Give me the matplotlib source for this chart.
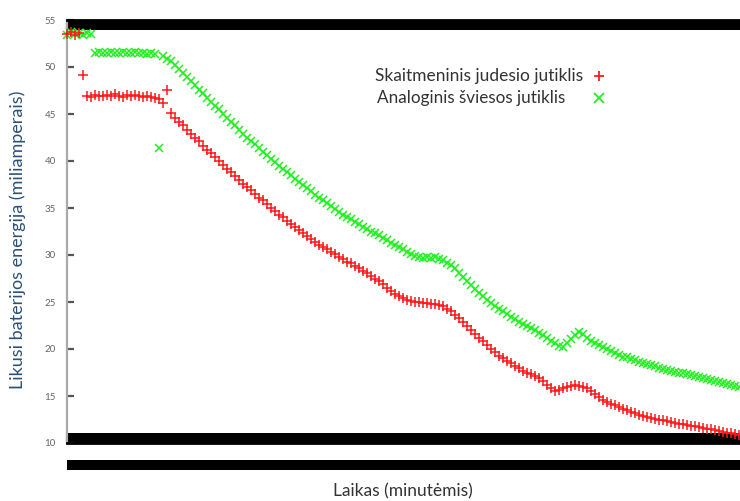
import numpy as np
import matplotlib
matplotlib.use("Agg")
import matplotlib.pyplot as plt
from matplotlib.patches import Rectangle

# Remaining battery energy (mA) per minute for two sensor types
minutes = list(range(169))

digital_motion = [
    53.5, 53.7, 53.4, 53.6, 49.1,
    46.9, 46.8, 47.0, 46.9, 46.9, 47.0, 46.9, 47.1, 46.9, 46.8, 47.0, 46.9, 47.0, 46.9, 46.8, 46.9, 46.8, 46.7,
    46.6, 46.2, 47.6, 45.1, 44.6, 44.2, 43.8, 43.3, 42.9, 42.5, 42.1, 41.6, 41.2, 40.8, 40.4, 40.0, 39.6,
    39.2, 38.8, 38.4, 38.0, 37.6, 37.2, 36.9, 36.5, 36.1, 35.8, 35.4, 35.0, 34.7, 34.3, 34.0, 33.6,
    33.3, 33.0, 32.7, 32.3, 32.0, 31.7, 31.4, 31.1, 30.9, 30.6, 30.3, 30.1, 29.8, 29.6, 29.3, 29.1,
    28.8, 28.6, 28.3, 28.1, 27.8, 27.5, 27.2, 26.9, 26.5, 26.2, 25.9, 25.6, 25.4, 25.2, 25.1, 25.0,
    25.0, 24.9, 24.9, 24.8, 24.8, 24.7, 24.6, 24.3, 24.0, 23.6, 23.3, 22.9, 22.5, 22.0, 21.6, 21.2,
    20.8, 20.4, 20.0, 19.7, 19.3, 19.0, 18.7, 18.5, 18.2, 18.0, 17.7, 17.5, 17.3, 17.1, 16.9, 16.6,
    16.2, 15.8, 15.5, 15.6, 15.8, 16.0, 16.1, 16.2, 16.1, 16.0, 15.8, 15.5, 15.2, 14.9, 14.6, 14.4,
    14.2, 14.0, 13.8, 13.6, 13.5, 13.3, 13.2, 13.0, 12.9, 12.8, 12.7, 12.6, 12.5, 12.4, 12.3, 12.2,
    12.1, 12.0, 12.0, 11.9, 11.8, 11.8, 11.7, 11.6, 11.5, 11.5, 11.4, 11.3, 11.2, 11.1, 11.1, 11.0, 10.9,
]

analog_light = [
    53.4, 53.7, 53.5, 53.6, 53.4, 53.6, 53.5,
    51.5, 51.6, 51.5, 51.5, 51.6, 51.5, 51.5, 51.6, 51.5, 51.5, 51.6, 51.5, 51.5, 51.4, 51.5, 51.4,
    41.4, 51.2, 50.9, 50.6, 50.2, 49.8, 49.4, 48.9, 48.5, 48.1, 47.6, 47.2, 46.7, 46.3, 45.9, 45.5,
    45.0, 44.6, 44.2, 43.8, 43.3, 42.9, 42.5, 42.1, 41.8, 41.4, 41.0, 40.6, 40.2, 39.9, 39.5, 39.2,
    38.8, 38.5, 38.1, 37.8, 37.4, 37.1, 36.8, 36.4, 36.1, 35.8, 35.5, 35.2, 34.9, 34.6, 34.3, 34.0,
    33.8, 33.5, 33.3, 33.0, 32.8, 32.5, 32.3, 32.1, 31.8, 31.6, 31.3, 31.1, 30.8, 30.6, 30.3, 30.1,
    29.9, 29.8, 29.7, 29.8, 29.7, 29.8, 29.6, 29.5, 29.2, 28.9, 28.6, 28.1, 27.7, 27.2, 26.8, 26.4,
    26.0, 25.6, 25.2, 24.9, 24.6, 24.3, 24.0, 23.7, 23.4, 23.2, 22.9, 22.7, 22.4, 22.2, 22.0, 21.7,
    21.5, 21.2, 20.9, 20.6, 20.3, 20.2, 20.6, 21.1, 21.5, 21.8, 21.6, 21.2, 20.9, 20.6, 20.4, 20.2,
    20.0, 19.8, 19.6, 19.4, 19.2, 19.1, 18.9, 18.8, 18.6, 18.5, 18.4, 18.3, 18.2, 18.0, 17.9, 17.8,
    17.7, 17.6, 17.5, 17.4, 17.3, 17.2, 17.1, 17.0, 16.9, 16.8, 16.7, 16.6, 16.5, 16.4, 16.3, 16.2,
    16.1, 16.0,
]

y_ticks = [10, 15, 20, 25, 30, 35, 40, 45, 50, 55]

series_labels = ["Skaitmeninis judesio jutiklis", "Analoginis šviesos jutiklis"]
red = "#ff1a1a"
green = "#22ee22"

plt.rcParams["font.family"] = ["Lato", "DejaVu Sans"]

fig = plt.figure(figsize=(7.40, 5.01), dpi=100)
ax = fig.add_axes([67 / 740, 58 / 501, 673 / 740, 423 / 501])

ax.plot(minutes, analog_light, linestyle="none", marker="x", color=green,
        markersize=6, markeredgewidth=1.1, clip_on=False, zorder=3)
ax.plot(minutes, digital_motion, linestyle="none", marker="+", color=red,
        markersize=6.5, markeredgewidth=1.1, clip_on=False, zorder=4)

ax.set_xlim(0, 168.25)
ax.set_ylim(10, 55)

# y axis: grey spine, short inward ticks, small grey labels
ax.set_yticks(y_ticks)
ax.set_yticklabels([str(v) for v in y_ticks])
ax.tick_params(axis="y", direction="in", length=5, width=1.6, color="#555555",
               labelsize=7, labelcolor="#666666", pad=8)
ax.spines["right"].set_visible(False)
ax.spines["left"].set_color("#aaaaaa")
ax.spines["left"].set_linewidth(1.6)
ax.spines["top"].set_color("black")
ax.spines["bottom"].set_color("black")
ax.spines["top"].set_linewidth(2)
ax.spines["bottom"].set_linewidth(2)

# x axis: a tick every half minute on both borders, so dense they merge into bars
ax.set_xticks(np.arange(0, 168.5, 0.5))
ax.tick_params(axis="x", direction="in", length=7, width=1.5, color="black",
               top=True, bottom=True, labelbottom=False)

# band of overlapping x tick labels under the axis
ax.add_patch(Rectangle((0, -0.064), 1.0, 0.024, transform=ax.transAxes,
                       facecolor="black", edgecolor="none", clip_on=False))

ax.set_ylabel("Likusi baterijos energija (miliamperais)", fontsize=13,
              color="#2b5078")
ax.yaxis.set_label_coords(-0.061, 0.48)
fig.text(0.545, 0.004, "Laikas (minutėmis)", ha="center", va="bottom",
         fontsize=12.5, color="#333333")

# key
ax.text(0.457, 0.867, series_labels[0], transform=ax.transAxes, fontsize=12.5,
        color="#333333", va="center", ha="left")
ax.text(0.461, 0.815, series_labels[1], transform=ax.transAxes, fontsize=12.3,
        color="#333333", va="center", ha="left")
ax.plot([0.79], [0.867], transform=ax.transAxes, marker="+", color=red,
        markersize=7, markeredgewidth=1.3, linestyle="none", clip_on=False)
ax.plot([0.79], [0.815], transform=ax.transAxes, marker="x", color=green,
        markersize=7, markeredgewidth=1.3, linestyle="none", clip_on=False)

fig.savefig("out.png", dpi=100)
